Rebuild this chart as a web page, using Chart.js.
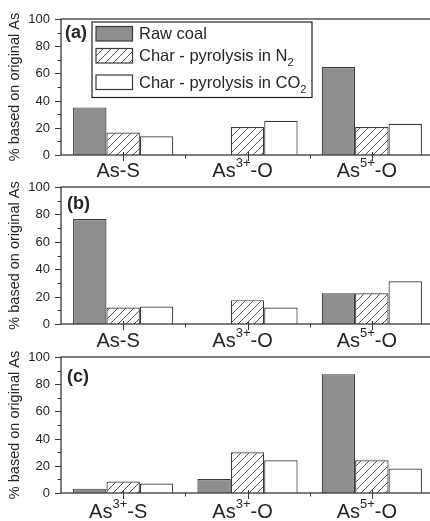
<!DOCTYPE html>
<html>
<head>
<meta charset="utf-8">
<script src="https://cdn.jsdelivr.net/npm/chart.js@4.4.1/dist/chart.umd.min.js"></script>
<style>
  html,body{margin:0;padding:0;background:#fff;}
  body{width:430px;height:521px;overflow:hidden;position:relative;}
  .pan{position:absolute;left:0;}
</style>
</head>
<body>
<canvas id="ca" class="pan" width="440" height="178" style="top:0px"></canvas>
<canvas id="cb" class="pan" width="440" height="172" style="top:178px"></canvas>
<canvas id="cc" class="pan" width="440" height="171" style="top:350px"></canvas>
<script>
// ---------------- DATA ----------------
const panelTags = ["(a)", "(b)", "(c)"];
const categoriesAB = ["As-S", "As³⁺-O", "As⁵⁺-O"];
const categoriesC = ["As³⁺-S", "As³⁺-O", "As⁵⁺-O"];
const seriesNames = ["Raw coal", "Char - pyrolysis in N₂", "Char - pyrolysis in CO₂"];
const yTitle = "% based on original As";
const yTicks = [0, 20, 40, 60, 80, 100];

const rawA = [35, 0, 64.7];
const n2A  = [16.5, 20.6, 20.6];
const co2A = [13.8, 25.2, 23];

const rawB = [76.6, 0, 22.5];
const n2B  = [12, 17.4, 22.5];
const co2B = [12.8, 12, 31.2];

const rawC = [3.2, 10.3, 87.3];
const n2C  = [8.5, 29.9, 24];
const co2C = [7, 24, 18];

// ---------------- STYLE ----------------
const FONT = '"Liberation Sans", Arial, Helvetica, sans-serif';
const TEXT = '#262626';
const AXIS = '#3a3a3a';
const GRAY = '#8d8e90';
const EDGE = '#3a3a3a';

function hatchPattern(ctx){
  const c = document.createElement('canvas');
  c.width = 8; c.height = 8;
  const g = c.getContext('2d');
  g.fillStyle = '#fff'; g.fillRect(0,0,8,8);
  g.strokeStyle = '#555'; g.lineWidth = 1;
  g.beginPath();
  g.moveTo(0,8); g.lineTo(8,0);
  g.moveTo(-2,2); g.lineTo(2,-2);
  g.moveTo(6,10); g.lineTo(10,6);
  g.stroke();
  return ctx.createPattern(c, 'repeat');
}

function parts(s){
  const sup = {'³':'3','⁵':'5','⁺':'+'}, sub = {'₂':'2'};
  const out = [];
  for (const ch of s){
    const t = sup[ch] ? 'sup' : (sub[ch] ? 'sub' : 'n');
    const c = sup[ch] || sub[ch] || ch;
    if (out.length && out[out.length-1].t === t) out[out.length-1].s += c;
    else out.push({t, s:c});
  }
  return out;
}
function drawRich(ctx, s, x, y, size, small, align, supDy, subDy){
  const ps = parts(s);
  let total = 0;
  ps.forEach(p => {
    ctx.font = (p.t === 'n' ? size : small) + 'px ' + FONT;
    p.w = ctx.measureText(p.s).width; total += p.w;
  });
  let cx = align === 'center' ? x - total/2 : x;
  ctx.textAlign = 'left'; ctx.textBaseline = 'alphabetic';
  ps.forEach(p => {
    ctx.font = (p.t === 'n' ? size : small) + 'px ' + FONT;
    const dy = p.t === 'sup' ? -supDy : (p.t === 'sub' ? subDy : 0);
    ctx.fillText(p.s, cx, y + dy);
    cx += p.w;
  });
}

const panels = [
  {id:'ca', h:178, top:19, bottom:155, cats:categoriesAB, data:[rawA,n2A,co2A], tag:panelTags[0], tagX:65, tagDy:18.5, labDy:22, legend:true},
  {id:'cb', h:172, top:9,  bottom:146, cats:categoriesAB, data:[rawB,n2B,co2B], tag:panelTags[1], tagX:67, tagDy:22, labDy:23, legend:false},
  {id:'cc', h:171, top:7,  bottom:143, cats:categoriesC,  data:[rawC,n2C,co2C], tag:panelTags[2], tagX:67, tagDy:25, labDy:25, legend:false}
];

const decor = {
  id:'decor',
  afterDatasetsDraw(chart, args, opts){
    const ctx = chart.ctx, a = chart.chartArea;
    const xs = chart.scales.x, ys = chart.scales.y;
    const p = opts.panel;
    ctx.save();
    // frame
    ctx.strokeStyle = AXIS; ctx.lineWidth = 1.3;
    ctx.strokeRect(a.left, a.top, a.right - a.left, a.bottom - a.top);
    // y ticks
    ctx.lineWidth = 1;
    ctx.beginPath();
    yTicks.forEach((v,i) => {
      const y = Math.round(ys.getPixelForValue(v)) + 0.5;
      ctx.moveTo(a.left - 6, y); ctx.lineTo(a.left, y);
      if (i < yTicks.length - 1){
        const ym = Math.round(ys.getPixelForValue((v + yTicks[i+1]) / 2)) + 0.5;
        ctx.moveTo(a.left - 3.5, ym); ctx.lineTo(a.left, ym);
      }
    });
    // x ticks
    const n = chart.data.labels.length;
    for (let i = 0; i < n; i++){
      const x = Math.round(xs.getPixelForValue(i)) + 0.5;
      ctx.moveTo(x, a.bottom - 3); ctx.lineTo(x, a.bottom + 6);
      if (i < n - 1){
        const xb = Math.round((xs.getPixelForValue(i) + xs.getPixelForValue(i+1)) / 2) + 0.5;
        ctx.moveTo(xb, a.bottom); ctx.lineTo(xb, a.bottom + 3.5);
      }
    }
    ctx.stroke();
    // y tick labels
    ctx.fillStyle = TEXT;
    ctx.font = '13px ' + FONT;
    ctx.textAlign = 'right'; ctx.textBaseline = 'middle';
    yTicks.forEach(v => ctx.fillText(String(v), a.left - 11, ys.getPixelForValue(v) + 0.5));
    // y title
    ctx.save();
    ctx.translate(15, (a.top + a.bottom) / 2);
    ctx.rotate(-Math.PI / 2);
    ctx.font = '14.5px ' + FONT;
    ctx.textAlign = 'center'; ctx.textBaseline = 'middle';
    ctx.fillText(yTitle, 0, 0);
    ctx.restore();
    // category labels
    chart.data.labels.forEach((lab, i) => {
      drawRich(ctx, lab, xs.getPixelForValue(i) - 5, a.bottom + p.labDy, 20, 13, 'center', 10, 0);
    });
    // panel tag
    ctx.font = 'bold 18px ' + FONT;
    ctx.textAlign = 'left'; ctx.textBaseline = 'alphabetic';
    ctx.fillText(p.tag, p.tagX, a.top + p.tagDy);
    // legend
    if (p.legend){
      ctx.lineWidth = 1.2; ctx.strokeStyle = '#222';
      ctx.fillStyle = '#fff';
      ctx.fillRect(92, 22, 220, 75.5);
      ctx.strokeRect(92, 22, 220, 75.5);
      const rows = [{y:26.5, ty:39}, {y:48.5, ty:61}, {y:75, ty:87.5}];
      chart.data.datasets.forEach((ds, k) => {
        ctx.fillStyle = ds.backgroundColor;
        ctx.fillRect(96, rows[k].y, 36.5, 14.5);
        ctx.strokeStyle = EDGE; ctx.lineWidth = 1.2;
        ctx.strokeRect(96, rows[k].y, 36.5, 14.5);
        ctx.fillStyle = TEXT;
        drawRich(ctx, ds.label, 139, rows[k].ty, 16.5, 11, 'left', 0, 5);
      });
    }
    ctx.restore();
  }
};

panels.forEach(p => {
  const ctx = document.getElementById(p.id).getContext('2d');
  const hatch = hatchPattern(ctx);
  const fills = [GRAY, hatch, '#ffffff'];
  new Chart(ctx, {
    type: 'bar',
    data: {
      labels: p.cats,
      datasets: p.data.map((d, k) => ({
        label: seriesNames[k],
        data: d,
        backgroundColor: fills[k],
        borderColor: EDGE,
        borderWidth: 1.2,
        categoryPercentage: 0.806,
        barPercentage: 1
      }))
    },
    options: {
      responsive: false,
      animation: false,
      devicePixelRatio: 1,
      layout: {padding: {left: 61, right: 6, top: p.top, bottom: p.h - p.bottom}},
      plugins: {legend: {display: false}, tooltip: {enabled: false}, decor: {panel: p}},
      scales: {
        x: {display: false, offset: true},
        y: {display: false, min: 0, max: 100}
      }
    },
    plugins: [decor]
  });
});
</script>
</body>
</html>
